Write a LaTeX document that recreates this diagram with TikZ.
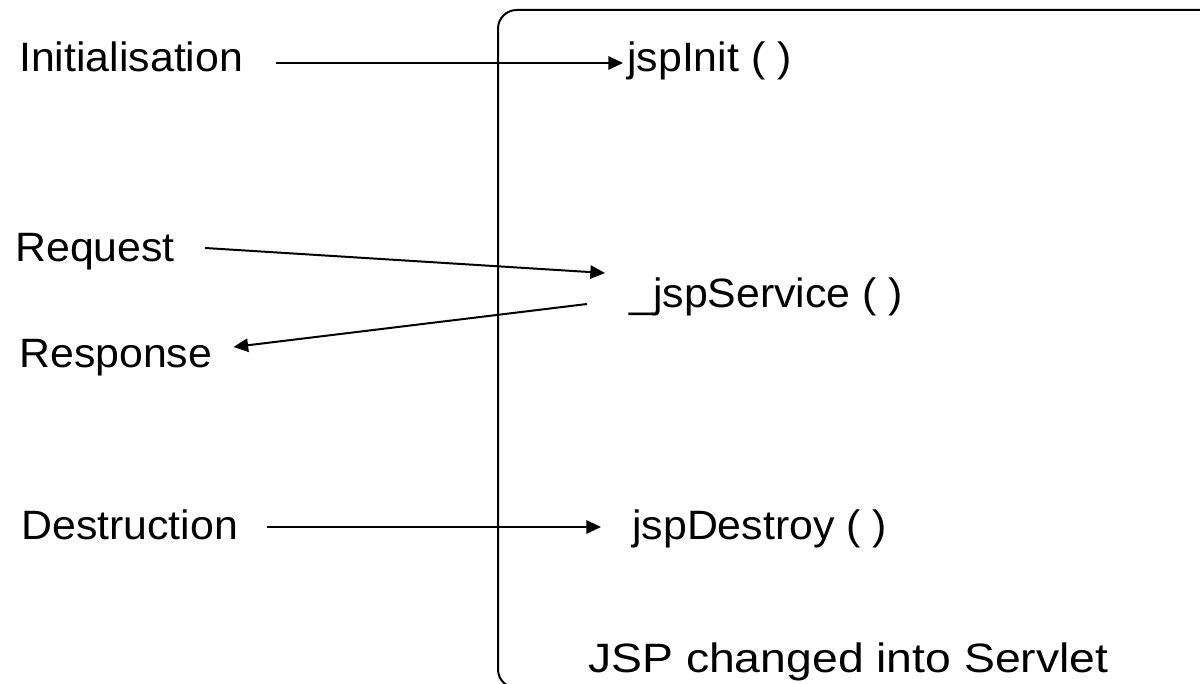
\documentclass[tikz,border=0pt]{standalone}
\usepackage{fontspec}
\setmainfont[FakeStretch=1.045]{Liberation Sans}
\newfontfamily\widefont[FakeStretch=1.13]{Liberation Sans}
\usetikzlibrary{arrows.meta}
\begin{document}
\begin{tikzpicture}[x=0.75pt, y=-0.75pt,
  lbl/.style={anchor=base west, inner sep=0pt, font=\fontsize{30.75pt}{36pt}\selectfont},
  arr/.style={line width=1.5pt, -{Triangle[length=11pt,width=10pt]}},
  frame/.style={line width=1.5pt, rounded corners=14pt}]
  \useasboundingbox (0,0) rectangle (1200,684);
  \clip (0,0) rectangle (1200,684);

  % servlet container outline, open to the right and bottom
  \draw[frame] (498,688) rectangle (1260,10);

  % lifecycle phases on the left
  \node[lbl] (init) at (19,72) {Initialisation};
  \node[lbl] (req)  at (15,262) {Request};
  \node[lbl] (resp) at (19,368) {Response};
  \node[lbl] (dest) at (21,539) {Destruction};

  % generated servlet methods on the right
  \node[lbl] (jinit) at (627,72) {jspInit ( )};
  \node[lbl] (svc)   at (629,308) {\_jspService ( )};
  \node[lbl] (jdes)  at (632,539) {jspDestroy ( )};
  \node[lbl, font=\fontsize{30.75pt}{36pt}\widefont] (conv) at (588,672) {JSP changed into Servlet};

  % calls
  \draw[arr] ([shift={(33,-9)}]init.base east) -- ([shift={(-4,-9)}]jinit.base west);
  \draw[arr] ([shift={(30,-14)}]req.base east) -- ([shift={(-24,-35)}]svc.base west);
  \draw[arr] ([shift={(-42,-4)}]svc.base west) -- ([shift={(21,-21)}]resp.base east);
  \draw[arr] ([shift={(29,-12)}]dest.base east) -- ([shift={(-31,-12)}]jdes.base west);
\end{tikzpicture}
\end{document}
